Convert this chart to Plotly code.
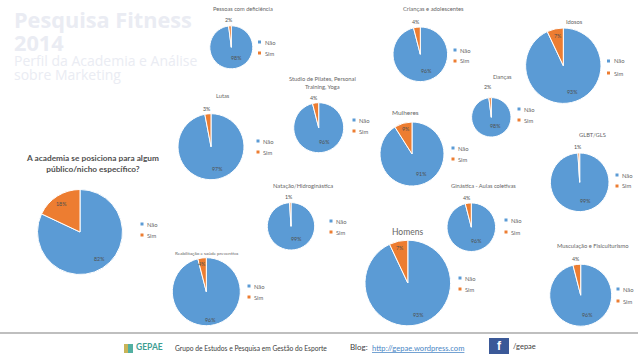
import plotly.graph_objects as go

W, H = 638, 359
BLUE, ORANGE = "#5B9BD5", "#ED7D31"
GREY = "#666666"

slice_labels = ["Não", "Sim"]
titles = ["<b>A academia se posiciona para algum<br>público/nicho específico?</b>", "Pessoas com deficiência", "Lutas",
          "Crianças e adolescentes", "Idosos", "Danças", "Mulheres", "GLBT/GLS",
          "Studio de Pilates, Personal<br>Training, Yoga", "Natação/Hidroginástica",
          "Reabilitação e saúde preventiva", "Ginástica - Aulas coletivas", "Homens",
          "Musculação e Fisiculturismo"]
nao_values = [82, 98, 97, 96, 93, 98, 91, 99, 96, 99, 96, 96, 93, 96]
sim_values = [18, 2, 3, 4, 7, 2, 9, 1, 4, 1, 4, 4, 7, 4]

# layout: centre x, centre y, radius (pixels)
centres = [(80, 232, 42.5), (231.3, 47.3, 21.5), (211, 146.7, 33), (420.3, 54.3, 27.3),
           (563.3, 65.7, 37.7), (491.3, 117.3, 19.7), (412, 154, 32), (579.7, 182.3, 29.3),
           (318.7, 127.7, 25), (291, 226.3, 23.7), (206.3, 291.7, 34), (471.3, 227.2, 24.3),
           (407.8, 283, 42.8), (580.7, 295.2, 31)]
title_pos = [(92, 163), (243.3, 8.7), (223, 95.5), (433, 9), (574, 22), (503, 76), (405, 112.5), (592, 134),
             (322, 82), (303, 186), (206, 253), (483, 186), (407.7, 232), (593, 245)]
title_size = [8.3, 5.7, 5.7, 5.8, 5.8, 5.8, 6.5, 5.8, 5.8, 5.8, 4.6, 5.7, 8.5, 5.8]
legend_pos = [(142, 224, 235), (259.5, 42, 53), (258, 141, 152), (455, 50, 61), (608.5, 61, 73), (519, 109, 120),
              (453, 148, 159), (617, 175, 186), (354, 120, 131), (331, 221, 232), (249, 286, 297),
              (506, 220, 232), (460, 278, 289), (618, 289, 301)]
nao_label_pos = [(99.3, 259), (236, 58), (217.7, 169), (426.7, 71), (572.3, 92), (495.7, 126), (421.7, 173.7),
                 (585, 201), (324.7, 142), (296.7, 239), (210, 320), (476.7, 241), (418.7, 315), (587.7, 315)]
sim_label_pos = [(61, 204), (229.3, 20), (207, 109), (416.3, 22), (557.7, 36), (488.3, 87), (405.7, 129),
                 (578.3, 147), (314.3, 98), (289.3, 196.7), (202.3, 263.7), (467.3, 198), (400.3, 248), (576.3, 259)]


def px(x, y):
    return x / W, 1 - y / H


fig = go.Figure()
anns = []
shapes = []


def note(x, y, text, size, color=GREY, family="Lato", anchor="center"):
    ax, ay = px(x, y)
    anns.append(dict(x=ax, y=ay, xref="paper", yref="paper", text=text, showarrow=False,
                     xanchor=anchor, yanchor="middle", align="center", borderpad=0,
                     font=dict(size=size, color=color, family=family)))


def rect(x0, y0, x1, y1, fill):
    ax0, ay0 = px(x0, y0)
    ax1, ay1 = px(x1, y1)
    shapes.append(dict(type="rect", xref="paper", yref="paper", x0=ax0, y0=ay0, x1=ax1, y1=ay1,
                       fillcolor=fill, line=dict(width=0), layer="below"))


for i, (cx, cy, r) in enumerate(centres):
    fig.add_trace(go.Pie(
        labels=slice_labels, values=[nao_values[i], sim_values[i]], sort=False, direction="clockwise",
        rotation=0, marker=dict(colors=[BLUE, ORANGE], line=dict(color="white", width=1)),
        textinfo="none", automargin=False, showlegend=False, hoverinfo="label+percent",
        domain=dict(x=[(cx - r) / W, (cx + r) / W], y=[1 - (cy + r) / H, 1 - (cy - r) / H]),
    ))
    tx, ty = title_pos[i]
    note(tx, ty, titles[i], title_size[i], "#505050" if i == 0 else GREY)
    note(*nao_label_pos[i], f"{nao_values[i]}%", 5.3, "#505050")
    note(*sim_label_pos[i], f"{sim_values[i]}%", 5.3, "#505050")
    lx, ly1, ly2 = legend_pos[i]
    for name, col, ly in ((slice_labels[0], BLUE, ly1), (slice_labels[1], ORANGE, ly2)):
        rect(lx - 1.5, ly - 1.5, lx + 1.5, ly + 1.5, col)
        note(lx + 4, ly, name, 5.8, anchor="left")

# header
note(13, 19.5, "<b>Pesquisa Fitness</b>", 21.7, "#EAECF3", "Open Sans", "left")
note(13, 42, "<b>2014</b>", 21.7, "#EAECF3", "Open Sans", "left")
note(13, 61, "Perfil da Academia e Análise", 14, "#EAECF3", "Open Sans", "left")
note(13, 75, "sobre Marketing", 14, "#EAECF3", "Open Sans", "left")

# footer
note(174, 347.5, "Grupo de Estudos e Pesquisa em Gestão do Esporte", 6.7, "#404040", "Lato", "left")
note(349, 347, "Blog:", 8, "#404040", "Lato", "left")
note(371, 347.5, "<u>http://gepae.wordpress.com</u>", 7.6, "#4A86C5", "Lato", "left")
note(512, 346.5, "/gepae", 7.5, "#404040", "Lato", "left")
note(135, 346.5, "<b>GEPAE</b>", 8.5, "#3E9E92", "Lato", "left")
note(499, 346, "<b>f</b>", 12, "white", "Liberation Sans")

rect(0, 332, W, 334, "#BFBFBF")
rect(489, 338, 509, 354, "#3B5998")
rect(124, 344, 128, 353, "#C9B458")
rect(128, 344, 133, 353, "#52B0A2")

fig.update_layout(width=W, height=H, margin=dict(l=0, r=0, t=0, b=0), paper_bgcolor="white",
                  plot_bgcolor="white", annotations=anns, shapes=shapes, showlegend=False)
fig.write_html("out.html", config={"displayModeBar": False},
               post_script="document.body.style.margin='0';document.body.style.overflow='hidden';")
